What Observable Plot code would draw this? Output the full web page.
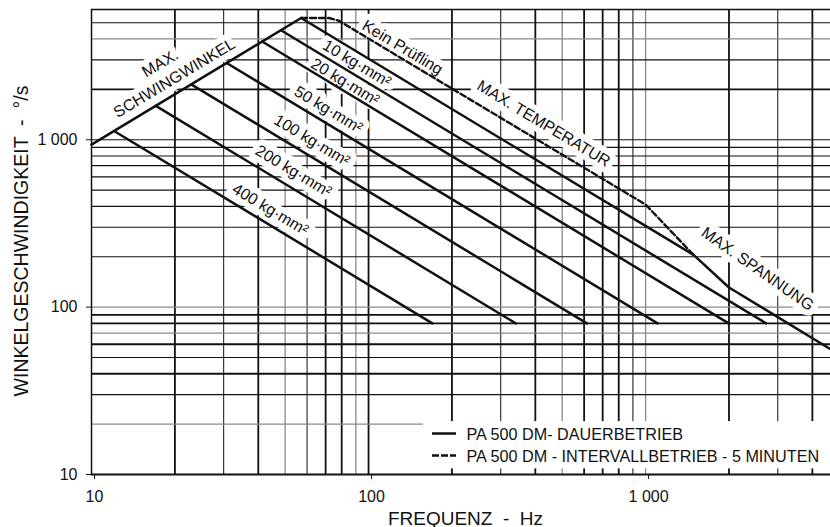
<!DOCTYPE html>
<html><head><meta charset="utf-8">
<script src="https://cdn.jsdelivr.net/npm/d3@7"></script>
<script src="https://cdn.jsdelivr.net/npm/@observablehq/plot@0.6"></script>
<style>body{margin:0;background:#fff} svg{display:block}</style>
</head><body><div id="chart"></div>
<script>
// ---- data ----
const gridFreq = [20,30,40,50,60,70,80,90,100,200,300,400,500,600,700,800,900,1000,2000,3000,4000];
const gridSpeed = [20,30,40,50,60,70,80,90,100,200,300,400,500,600,700,800,900,1000,2000,3000,4000,5000];
const tickValues = [10, 100, 1000];
const tickLabels = ["10", "100", "1 000"];

// MAX. SCHWINGWINKEL envelope
const swingFreq = [10, 57.1];
const swingSpeed = [935, 5340];
// Kein Prüfling (continuous), incl. MAX. SPANNUNG kink
const noLoadFreq = [57.1, 1490, 2000, 4650];
const noLoadSpeed = [5340, 205, 131, 56];
// Intervallbetrieb 5 min (dashed)
const intervalFreq = [57.1, 72, 78, 200, 1000, 1490];
const intervalSpeed = [5340, 5340, 5150, 2020, 410, 205];
// inertia lines
const inertiaNames = ["10 kg·mm²", "20 kg·mm²", "50 kg·mm²", "100 kg·mm²", "200 kg·mm²", "400 kg·mm²"];
const inertiaStartFreq = [48.3, 41.3, 30.75, 22.9, 17.06, 12.06];
const inertiaStartSpeed = [4513, 3863, 2875, 2143, 1595, 1128];
const inertiaEndFreq = [2723, 1995, 1105, 614, 340, 170];
const inertiaEndSpeed = [80, 80, 80, 80, 80, 80];

// annotations
const labelTexts = ["MAX.", "SCHWINGWINKEL", "Kein Prüfling", "10 kg·mm²", "20 kg·mm²", "50 kg·mm²", "100 kg·mm²", "200 kg·mm²", "400 kg·mm²", "MAX. TEMPERATUR", "MAX. SPANNUNG"];
const labelFreq = [17.7, 19.9, 132.6, 90.8, 82.4, 71.7, 62.5, 53.6, 44.2, 428.5, 2537];
const labelSpeed = [2860, 2330, 3556, 2851, 2213, 1512, 990, 649, 383, 1247, 169];
const labelAngle = [-31, -31, 31, 31, 31, 31, 31, 31, 31, 31, 35];

const legendTexts = ["PA 500 DM- DAUERBETRIEB", "PA 500 DM - INTERVALLBETRIEB - 5 MINUTEN"];
const xTitle = "FREQUENZ  -  Hz";
const yTitle = "WINKELGESCHWINDIGKEIT  -  °/s";

// ---- build tables ----
const toPts = (fs, ws) => fs.map((f, i) => ({f, w: ws[i]}));
const inertiaPts = inertiaNames.flatMap((name, i) => [
  {name, f: inertiaStartFreq[i], w: inertiaStartSpeed[i]},
  {name, f: inertiaEndFreq[i], w: inertiaEndSpeed[i]}
]);
const labels = labelTexts.map((t, i) => ({t, f: labelFreq[i], w: labelSpeed[i], a: labelAngle[i]}));

const greyX = new Set([50, 90, 500, 1000]);
const thinX = new Set([30, 60, 300, 900, 3000]);
const greyY = new Set([20, 70, 100, 4000]);
const thickY = new Set([40, 60, 80, 90, 2000]);
const fmt = d => tickLabels[tickValues.indexOf(d)];
const font = "Liberation Sans, Arial, sans-serif";

const chart = Plot.plot({
  width: 830, height: 527,
  marginLeft: 91, marginRight: 0, marginTop: 9, marginBottom: 53,
  style: {fontFamily: font, background: "white", color: "#111", overflow: "visible"},
  x: {type: "log", domain: [10, 4650], label: null},
  y: {type: "log", domain: [10, 6000], label: null},
  marks: [
    // grid
    Plot.ruleX(gridFreq.filter(d => greyX.has(d)), {stroke: "#8a8a8a", strokeWidth: 1.3}),
    Plot.ruleX(gridFreq.filter(d => thinX.has(d)), {stroke: "#111", strokeWidth: 1}),
    Plot.ruleX(gridFreq.filter(d => !greyX.has(d) && !thinX.has(d)), {stroke: "#111", strokeWidth: 1.8}),
    Plot.ruleY(gridSpeed.filter(d => greyY.has(d)), {stroke: "#8a8a8a", strokeWidth: 1.3}),
    Plot.ruleY(gridSpeed.filter(d => thickY.has(d)), {stroke: "#111", strokeWidth: 1.8}),
    Plot.ruleY(gridSpeed.filter(d => !greyY.has(d) && !thickY.has(d)), {stroke: "#111", strokeWidth: 1.1}),
    // frame
    Plot.ruleX([10], {stroke: "#111", strokeWidth: 1.5}),
    Plot.ruleY([6000], {stroke: "#111", strokeWidth: 1.3}),
    // legend background (covers the grid in the lower right corner)
    Plot.rect([0], {x1: () => 158, x2: () => 4650, y1: () => 10.8, y2: () => 20.7, fill: "white"}),
    // label halos
    Plot.text(labels, {x: "f", y: "w", text: "t", rotate: "a", fontSize: 16, fill: "white", stroke: "white", strokeWidth: 12, strokeLinejoin: "round"}),
    // curves
    Plot.line(toPts(intervalFreq, intervalSpeed), {x: "f", y: "w", stroke: "#111", strokeWidth: 2.4, strokeDasharray: "6,3"}),
    Plot.line(toPts(swingFreq, swingSpeed), {x: "f", y: "w", stroke: "#111", strokeWidth: 2.5}),
    Plot.line(toPts(noLoadFreq, noLoadSpeed), {x: "f", y: "w", stroke: "#111", strokeWidth: 2.5}),
    Plot.line(inertiaPts, {x: "f", y: "w", z: "name", stroke: "#111", strokeWidth: 2.5}),
    // labels
    Plot.text(labels, {x: "f", y: "w", text: "t", rotate: "a", fontSize: 16, fill: "#111"}),
    // axes
    Plot.ruleY([10], {stroke: "#111", strokeWidth: 2}),
    Plot.axisX({ticks: tickValues, tickFormat: fmt, tickSize: 5, tickPadding: 11, fontSize: 16, dx: 3, label: null, stroke: "#111"}),
    Plot.axisY({ticks: tickValues, tickFormat: fmt, tickSize: 5, tickPadding: 9, fontSize: 16, label: null, stroke: "#111"})
  ]
});

document.getElementById("chart").append(chart);

// legend entries inside the plot area and axis titles
const svg = d3.select(chart);
const lg = svg.append("g").attr("font-family", font).attr("font-size", 16.2).attr("fill", "#111").attr("text-anchor", "start");
lg.append("line").attr("x1", 432).attr("x2", 456).attr("y1", 433.5).attr("y2", 433.5).attr("stroke", "#111").attr("stroke-width", 2.5);
lg.append("line").attr("x1", 432).attr("x2", 456).attr("y1", 455.5).attr("y2", 455.5).attr("stroke", "#111").attr("stroke-width", 2.5).attr("stroke-dasharray", "7,2");
lg.append("text").attr("x", 466.5).attr("y", 440).attr("text-anchor", "start").text(legendTexts[0]);
lg.append("text").attr("x", 466.5).attr("y", 461.7).attr("text-anchor", "start").text(legendTexts[1]);
svg.append("text").attr("font-family", font).attr("font-size", 19).attr("fill", "#111")
  .attr("text-anchor", "middle").attr("x", 465.5).attr("y", 524.5).text(xTitle);
svg.append("text").attr("font-family", font).attr("font-size", 19.5).attr("fill", "#111")
  .attr("text-anchor", "middle").attr("transform", "translate(28.3,241) rotate(-90)").text(yTitle);
</script>
</body></html>
